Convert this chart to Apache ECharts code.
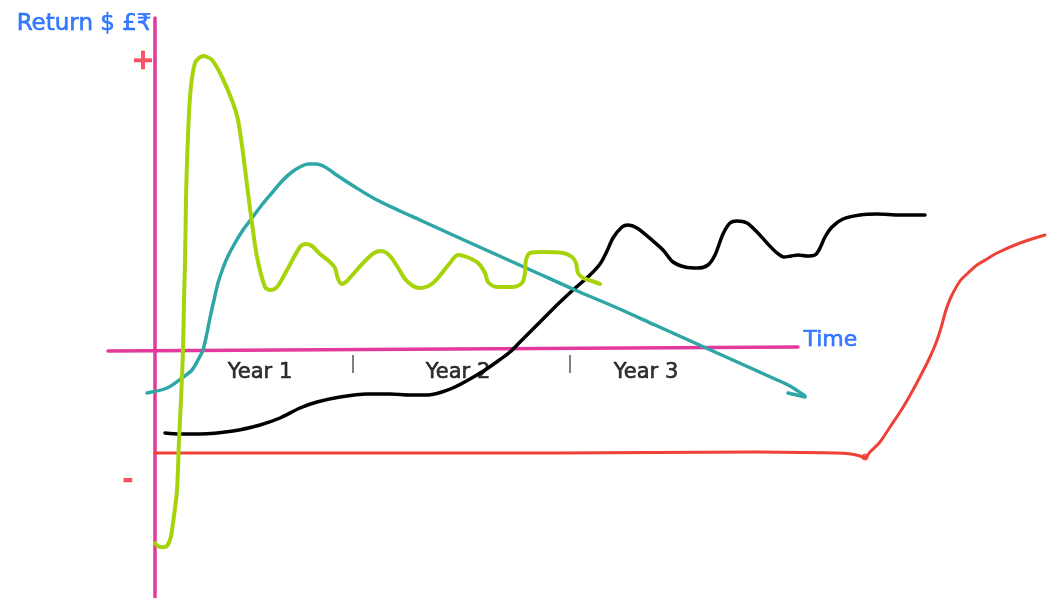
<!DOCTYPE html>
<html>
<head>
<meta charset="utf-8">
<script src="https://cdn.jsdelivr.net/npm/echarts@6/dist/echarts.min.js"></script>
<style>
html,body{margin:0;padding:0;background:#fff;}
#chart{width:1050px;height:598px;}
</style>
</head>
<body>
<div id="chart"></div>
<script>
// ---- Data (x = time units from origin, y = return units, + up / - down) ----
const yearLabels = ['Year 1', 'Year 2', 'Year 3'];
const yearLabelX = [105, 303, 491];
const yearTickX = [198, 415];
const axisTitleY = 'Return $ £₹';
const axisTitleX = 'Time';

const timeAxisLine = [[-47, -1], [643, 3]];
const returnAxisLine = [[0, 332], [0, -248]];

const greenLine = [
  [0,-193],[5,-197],[10,-197],[15,-190],[18,-173],[22,-140],[24,-90],[26,-50],[28,0],
  [29,50],[30,87],[31,150],[32,187],[35,253],[40,287],[48,294],[57,290],[67,273],
  [78,247],[83,230],[88,197],[93,157],[97,127],[102,93],[110,63],[115,60],[122,63],
  [132,80],[145,103],[151,106],[157,104],[165,96],[175,88],[180,82],[183,71],[187,66],
  [192,69],[200,78],[210,89],[219,97],[226,99],[234,95],[242,84],[250,71],[258,64],
  [265,62],[278,67],[295,87],[303,95],[312,93],[323,87],[330,77],[333,68],[342,63],
  [358,63],[367,67],[370,77],[371,90],[375,97],[388,98],[408,97],[417,93],[421,87],
  [423,77],[428,72],[437,69],[445,66]
];

const tealLine = [
  [-8,-43],[12,-38],[27,-28],[37,-20],[43,-10],[48,0],[52,17],[55,32],[59,50],[63,67],
  [68,82],[73,94],[80,107],[88,120],[97,132],[106,144],[116,156],[128,170],[137,178],
  [145,183],[153,186],[161,186],[170,183],[183,174],[200,163],[220,151],[245,139],
  [265,130],[300,114],[340,96],[380,78],[420,60],[460,43],[500,25],[540,7],[580,-11],
  [620,-29],[635,-36],[650,-46]
];
const tealBarb = [[650,-47],[633,-43]];

const blackLine = [
  [10,-83],[25,-84],[45,-84],[78,-81],[105,-75],[125,-68],[145,-58],[162,-52],[185,-47],
  [212,-44],[235,-44],[255,-45],[273,-45],[287,-42],[300,-37],[315,-29],[330,-20],
  [343,-11],[355,-2],[365,8],[375,18],[388,31],[403,46],[418,60],[435,75],[445,86],
  [452,99],[458,112],[467,123],[473,125],[482,122],[498,109],[508,100],[518,88],
  [530,83],[543,82],[553,85],[560,95],[568,116],[575,127],[582,129],[592,127],
  [602,118],[612,107],[622,97],[629,93],[636,94],[643,95],[652,94],[660,95],[665,102],
  [670,113],[677,123],[688,131],[705,135],[722,136],[745,135],[770,135]
];

const redLine = [
  [0,-103],[200,-103],[400,-103],[600,-102],[680,-103],[696,-104],[705,-106],[710,-108],
  [715,-102],[725,-92],[735,-77],[747,-59],[758,-40],[767,-23],[775,-7],[781,7],[786,22],
  [791,40],[796,53],[805,69],[813,77],[822,85],[832,91],[842,97],[865,107],[890,115]
];
const redDot = [[710,-107]];

// ---- Styles ----
const PINK = '#e2399b', GREEN = '#a6d30a', TEAL = '#2ea6a6', RED = '#ee4136', BLUE = '#0a5cff';
const FONT = 'DejaVu Sans';

function curve(data, color, width, smooth) {
  return {
    type: 'line', data: data, showSymbol: false, symbol: 'none',
    smooth: smooth,
    lineStyle: {color: color, width: width, cap: 'round', join: 'round'},
    silent: true, z: 3
  };
}
function textPoint(pt, text, color, size, position, extra) {
  return {
    type: 'scatter', data: [pt], symbolSize: 1, silent: true, z: 5,
    itemStyle: {color: 'transparent'},
    label: Object.assign({
      show: true, formatter: text, position: position, distance: 0,
      color: color, fontSize: size, fontFamily: FONT,
      textBorderColor: color, textBorderWidth: 0.6
    }, extra || {})
  };
}

const series = [];
series.push(curve(returnAxisLine, PINK, 3.5, false));
series.push(curve(timeAxisLine, PINK, 3.5, false));
yearTickX.forEach(x => {
  series.push({type: 'line', data: [[x, -5], [x, -23]], symbol: 'none', silent: true,
    lineStyle: {color: '#555', width: 1.5}, z: 2});
});
series.push(curve(redLine, RED, 3, 0.3));
series.push({type: 'scatter', data: redDot, symbolSize: 7, itemStyle: {color: RED}, silent: true, z: 4});
series.push(curve(blackLine, '#000', 3.5, 0.3));
series.push(curve(tealLine, TEAL, 3.5, 0.3));
series.push(curve(tealBarb, TEAL, 3.5, false));
series.push(curve(greenLine, GREEN, 4, 0.3));

yearLabels.forEach((t, i) => {
  series.push(textPoint([yearLabelX[i], -23], t, '#000', 21, 'inside'));
});
series.push(textPoint([648, 10], axisTitleX, BLUE, 22, 'right'));
series.push(textPoint([-3, 326], axisTitleY, BLUE, 23, 'left'));
series.push(textPoint([-12, 288], '+', '#f5283f', 28, 'inside', {fontWeight: 'bold'}));
series.push(textPoint([-27, -131], '-', '#f5283f', 26, 'inside', {fontWeight: 'bold'}));

const chart = echarts.init(document.getElementById('chart'), null, {renderer: 'canvas'});
chart.setOption({
  animation: false,
  backgroundColor: '#fff',
  grid: {left: 0, right: 0, top: 0, bottom: 0},
  xAxis: {type: 'value', min: -155, max: 895, show: false},
  yAxis: {type: 'value', min: -248, max: 350, show: false},
  series: series
});
</script>
</body>
</html>
